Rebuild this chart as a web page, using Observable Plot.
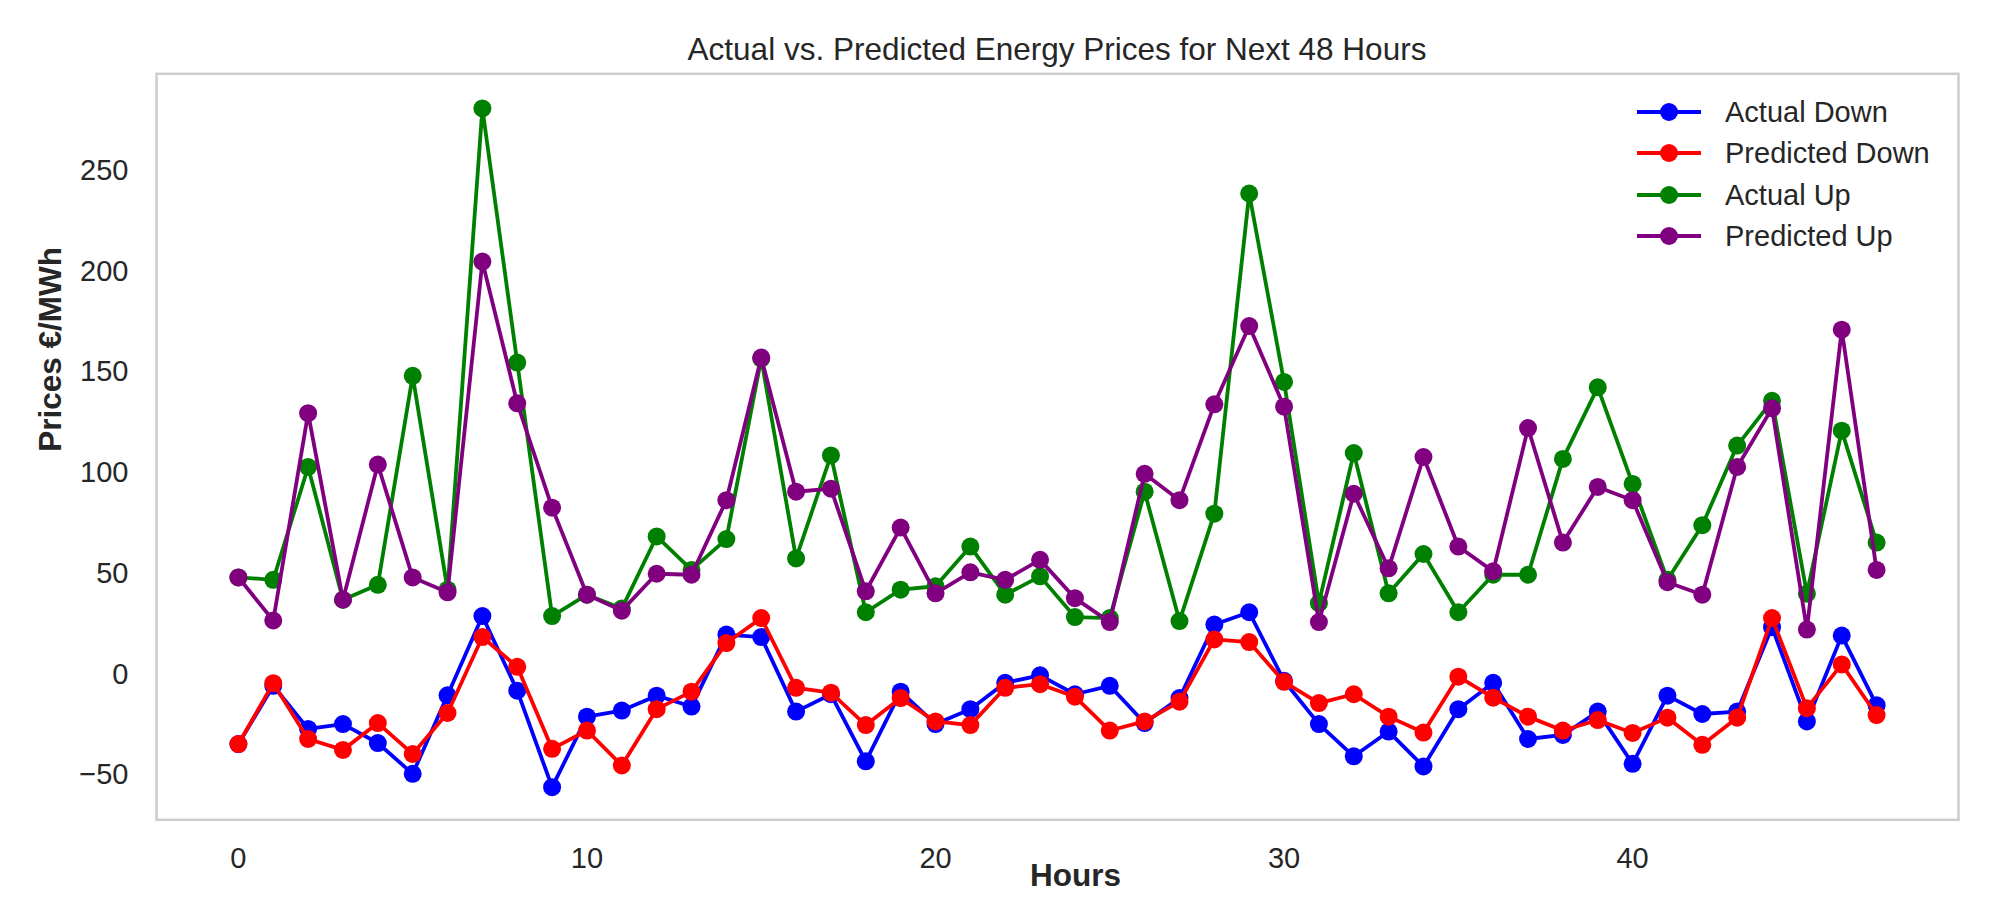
<!DOCTYPE html>
<html><head><meta charset="utf-8">
<script src="https://cdn.jsdelivr.net/npm/d3@7"></script>
<script src="https://cdn.jsdelivr.net/npm/@observablehq/plot@0.6"></script>
<style>
body{margin:0;background:#fff;}
#wrap{position:relative;width:1996px;height:897px;overflow:hidden;font-family:"Liberation Sans",Arial,sans-serif;color:#262626;background:#fff;}
#chart{position:absolute;left:0;top:0;}
#title{position:absolute;left:1057px;top:33px;transform:translateX(-50%);font-size:31.5px;line-height:32px;white-space:nowrap;}
#legend{position:absolute;left:1637px;top:91px;font-size:29px;}
.row{display:flex;align-items:center;height:41.5px;}
.row svg{display:block;}
.row span{margin-left:24px;line-height:32px;white-space:nowrap;}
</style></head>
<body><div id="wrap"><div id="chart"></div><div id="title"></div><div id="legend"></div></div>
<script>
const titleText = "Actual vs. Predicted Energy Prices for Next 48 Hours";
const xLabel = "Hours";
const yLabel = "Prices €/MWh";
const hours = [0,1,2,3,4,5,6,7,8,9,10,11,12,13,14,15,16,17,18,19,20,21,22,23,24,25,26,27,28,29,30,31,32,33,34,35,36,37,38,39,40,41,42,43,44,45,46,47];
const xTicks = [0,10,20,30,40];
const yTicks = [-50,0,50,100,150,200,250];

const actualDown = [-34.6,-5.7,-27.1,-24.7,-34.1,-49.4,-10.4,28.9,-8.1,-56.0,-21.0,-18.0,
  -10.6,-16.0,19.7,18.5,-18.5,-9.9,-43.2,-8.6,-24.7,-17.3,-4.2,-0.5,
  -9.9,-5.7,-24.2,-11.8,24.7,30.8,-3.2,-24.7,-40.7,-28.4,-45.7,-17.3,
  -4.2,-32.1,-30.1,-18.5,-44.4,-10.6,-19.7,-18.5,23.4,-23.4,19.2,-15.3];
const predictedDown = [-34.6,-4.4,-32.1,-37.5,-24.2,-39.5,-19.2,18.5,3.7,-37.0,-27.9,-45.2,
  -17.3,-8.6,15.5,27.9,-6.7,-9.1,-25.2,-11.8,-23.4,-25.2,-6.7,-4.9,
  -11.1,-27.9,-23.4,-13.6,17.3,16.0,-3.7,-14.3,-9.9,-21.0,-28.9,-1.2,
  -11.6,-21.0,-27.9,-22.7,-29.1,-21.5,-35.0,-21.5,27.9,-16.8,4.9,-20.2];
const actualUp = [48.1,46.9,102.9,37.0,44.4,148.1,42.0,280.8,154.7,28.9,39.5,32.6,
  68.4,51.8,67.1,156.7,57.5,108.6,30.8,42.0,43.7,63.4,39.5,48.6,
  28.4,27.9,90.6,26.4,79.7,238.6,145.1,35.3,109.8,40.2,59.7,30.8,
  49.4,49.4,106.9,142.4,94.5,46.9,74.0,113.5,135.7,40.0,120.9,65.4];
const predictedUp = [48.1,26.7,129.6,37.0,104.1,48.1,40.7,204.8,134.5,82.7,39.5,31.6,
  49.9,49.4,86.4,157.2,90.6,92.1,41.2,72.8,40.2,50.6,46.9,56.8,
  37.8,25.9,99.5,86.4,134.0,172.8,132.8,25.9,89.6,52.6,107.8,63.4,
  51.1,122.2,65.4,93.0,86.4,45.7,39.5,102.9,132.0,22.2,171.0,51.8];

const seriesNames = ["Actual Down","Predicted Down","Actual Up","Predicted Up"];
const seriesColors = ["#0000ff","#ff0000","#008000","#800080"];
const seriesValues = [actualDown, predictedDown, actualUp, predictedUp];

const series = seriesNames.map((name, i) => ({
  name, color: seriesColors[i],
  rows: hours.map((h, j) => ({hour: h, value: seriesValues[i][j], series: name}))
}));

const font = '"Liberation Sans", Arial, sans-serif';
const chart = Plot.plot({
  width: 1996, height: 897,
  marginLeft: 156, marginRight: 38, marginTop: 73.3, marginBottom: 77.7,
  style: {fontFamily: font, fontSize: "29px", color: "#262626", background: "white"},
  x: {domain: [-2.35, 49.35]},
  y: {domain: [-72.2, 298]},
  marks: [
    Plot.frame({stroke: "#cccccc", strokeWidth: 2.5}),
    Plot.axisX({ticks: xTicks, tickSize: 0, tickPadding: 28, label: null, fontSize: 29}),
    Plot.axisY({ticks: yTicks, tickSize: 0, tickPadding: 28, label: null, fontSize: 29}),
    ...series.flatMap(s => [
      Plot.line(s.rows, {x: "hour", y: "value", stroke: s.color, strokeWidth: 3.8}),
      Plot.dot(s.rows, {x: "hour", y: "value", r: 9, fill: s.color, stroke: "none"})
    ]),
    Plot.text([yLabel], {frameAnchor: "left", dx: -106, dy: 5, rotate: -90, text: d => d, fontWeight: "bold", fontSize: 31.5, fill: "#262626"}),
    Plot.text([xLabel], {frameAnchor: "bottom", lineAnchor: "middle", dx: 18, dy: 56, text: d => d, fontWeight: "bold", fontSize: 31.5, fill: "#262626"})
  ]
});
document.getElementById("chart").appendChild(chart);
document.getElementById("title").textContent = titleText;

const legend = document.getElementById("legend");
series.forEach(s => {
  const row = document.createElement("div");
  row.className = "row";
  row.innerHTML = `<svg width="64" height="22"><line x1="0" y1="11" x2="64" y2="11" stroke="${s.color}" stroke-width="3.8"/><circle cx="32" cy="11" r="9" fill="${s.color}"/></svg><span></span>`;
  row.querySelector("span").textContent = s.name;
  legend.appendChild(row);
});
</script>
</body></html>
